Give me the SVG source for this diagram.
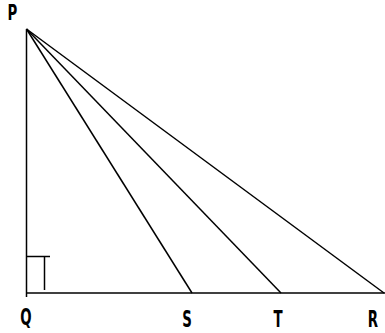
<svg xmlns="http://www.w3.org/2000/svg" width="385" height="333" viewBox="0 0 385 333">
<style>
.l{stroke:#000;stroke-width:1.5;fill:none}
.t{font-family:"DejaVu Sans","Liberation Sans",sans-serif;font-weight:bold;font-size:23px;fill:#000;text-anchor:middle}
</style>
<rect width="385" height="333" fill="#fff"/>
<g id="connectors">
<line class="l" x1="26.5" y1="29" x2="26.5" y2="297"/>
<line class="l" x1="26" y1="293" x2="385" y2="293"/>
<line class="l" x1="26.5" y1="29" x2="192" y2="293"/>
<line class="l" x1="26.5" y1="29" x2="281" y2="293"/>
<line class="l" x1="26.5" y1="29" x2="384" y2="293"/>
<polyline class="l" points="26.5,256.5 50,256.5"/>
<line class="l" x1="44.5" y1="256" x2="44.5" y2="290"/>
</g>
<g id="P"><text class="t" transform="translate(12.5,20) scale(0.58,0.9)">P</text></g>
<g id="Q"><text class="t" transform="translate(26,325) scale(0.58,1)">Q</text></g>
<g id="S"><text class="t" transform="translate(187,327) scale(0.58,1)">S</text></g>
<g id="T"><text class="t" transform="translate(278,327) scale(0.58,1)">T</text></g>
<g id="R"><text class="t" transform="translate(373,327) scale(0.58,1)">R</text></g>
</svg>
